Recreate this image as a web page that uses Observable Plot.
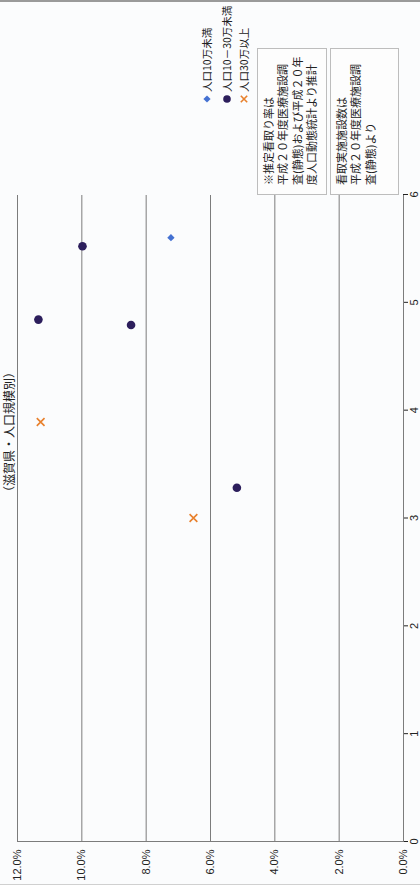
<!DOCTYPE html>
<html>
<head>
<meta charset="utf-8">
<script src="https://cdn.jsdelivr.net/npm/d3@7"></script>
<script src="https://cdn.jsdelivr.net/npm/@observablehq/plot@0.6"></script>
<style>
html, body { margin: 0; padding: 0; width: 420px; height: 885px; overflow: hidden; background: #fbfcfd; }
#page { position: absolute; left: 0; top: 0; width: 420px; height: 885px; border-top: 2px solid #9a9a9a; box-sizing: border-box; border-bottom: 1px solid #d0d0d0; }
#rot { position: absolute; left: 0; top: 0; width: 885px; height: 420px; transform-origin: 0 0; transform: translateY(885px) rotate(-90deg); font-family: "Noto Sans CJK JP", "Noto Sans", sans-serif; color: #222; }
#chart { position: absolute; left: 0; top: 0; }
#title { position: absolute; left: 386px; top: 2px; width: 134px; text-align: center; font-size: 12px; line-height: 13px; white-space: nowrap; }
.leg { position: absolute; left: 780px; height: 16px; font-size: 10.5px; line-height: 16px; white-space: nowrap; display: flex; align-items: center; }
.leg svg { width: 12px; height: 12px; margin-right: 1px; }
.note { position: absolute; left: 690px; width: 147px; box-sizing: border-box; border: 1px solid #bdbdbd; background: #fdfdfd; font-size: 11px; line-height: 14.3px; padding: 3px 0 0 9px; white-space: nowrap; }
</style>
</head>
<body>
<div id="page"></div>
<div id="rot">
  <div id="chart"></div>
  <div id="title"></div>
  <div id="legend"></div>
  <div class="note" id="note1" style="top:257px;height:70px;"></div>
  <div class="note" id="note2" style="top:330px;height:69px;"></div>
</div>
<script>
// ---- data ----
const seriesNames = ["人口10万未満", "人口10－30万未満", "人口30万以上"];
const seriesColors = ["#4471d2", "#2c1e5c", "#e8802c"];
// x: 看取実施施設数, y: 推定看取り率
const small_x = [5.60];
const small_y = [0.0723];
const mid_x = [5.52, 4.84, 4.79, 3.28];
const mid_y = [0.0998, 0.1135, 0.0847, 0.0518];
const large_x = [3.89, 3.00];
const large_y = [0.1128, 0.0653];
const xTicks = [0, 1, 2, 3, 4, 5, 6];
const yTicks = [0, 0.02, 0.04, 0.06, 0.08, 0.10, 0.12];
const titleText = "（滋賀県・人口規模別）";
const note1Lines = ["※推定看取り率は", "平成２０年度医療施設調", "査(静態)および平成２０年", "度人口動態統計より推計"];
const note2Lines = ["看取実施施設数は", "平成２０年度医療施設調", "査(静態)より"];

const toRows = (xs, ys) => xs.map((x, i) => ({x, y: ys[i]}));
const small = toRows(small_x, small_y);
const mid = toRows(mid_x, mid_y);
const large = toRows(large_x, large_y);

const plot = Plot.plot({
  width: 885,
  height: 420,
  marginLeft: 43,
  marginRight: 195,
  marginTop: 17,
  marginBottom: 17,
  style: {background: "transparent", fontFamily: "'Liberation Sans', Arial, sans-serif", fontSize: "11px", color: "#222"},
  x: {domain: [0, 6], ticks: xTicks, tickFormat: d => String(d), tickSize: 5, tickPadding: 2, label: null},
  y: {domain: [0, 0.12], ticks: yTicks, tickFormat: d3.format(".1%"), tickSize: 0, tickPadding: 8, label: null},
  marks: [
    Plot.ruleY(yTicks, {stroke: "#7c7c7c", strokeWidth: 1}),
    Plot.ruleX([0], {stroke: "#7c7c7c", strokeWidth: 1}),
    Plot.dot(small, {x: "x", y: "y", symbol: "diamond2", fill: seriesColors[0], r: 3.3}),
    Plot.dot(mid, {x: "x", y: "y", symbol: "circle", fill: seriesColors[1], r: 4.3}),
    Plot.dot(large, {x: "x", y: "y", symbol: "times", stroke: seriesColors[2], strokeWidth: 1.6, r: 3.6})
  ]
});
document.getElementById("chart").appendChild(plot);

document.getElementById("title").textContent = titleText;

// legend
const legendTops = [199, 219, 236];
const symbolSvg = [
  c => `<svg viewBox="-6 -6 12 12"><polygon points="0,-3.6 3.6,0 0,3.6 -3.6,0" fill="${c}"/></svg>`,
  c => `<svg viewBox="-6 -6 12 12"><circle r="3.8" fill="${c}"/></svg>`,
  c => `<svg viewBox="-6 -6 12 12"><path d="M-3.2,-3.2L3.2,3.2M-3.2,3.2L3.2,-3.2" stroke="${c}" stroke-width="1.6" fill="none"/></svg>`
];
const legend = document.getElementById("legend");
seriesNames.forEach((name, i) => {
  const d = document.createElement("div");
  d.className = "leg";
  d.style.top = legendTops[i] + "px";
  d.innerHTML = symbolSvg[i](seriesColors[i]) + `<span>${name}</span>`;
  legend.appendChild(d);
});

document.getElementById("note1").innerHTML = note1Lines.map(l => `<div>${l}</div>`).join("");
document.getElementById("note2").innerHTML = note2Lines.map(l => `<div>${l}</div>`).join("");
</script>
</body>
</html>
